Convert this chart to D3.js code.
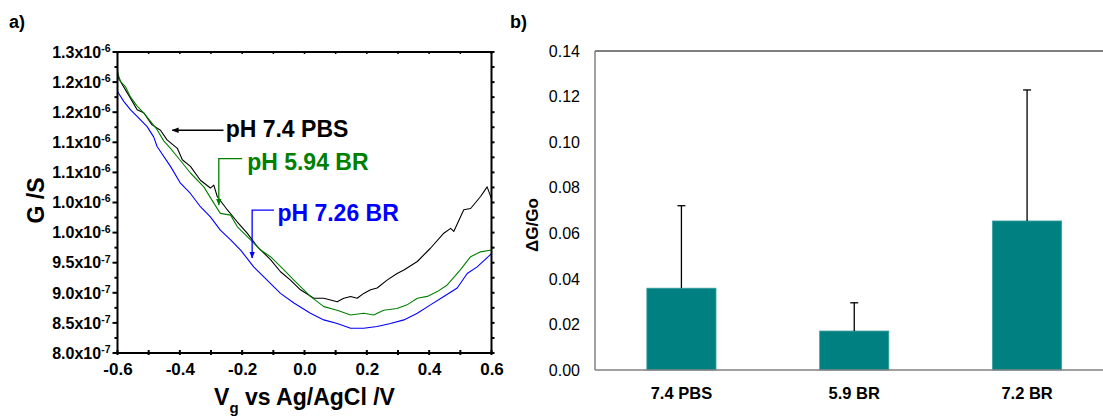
<!DOCTYPE html>
<html>
<head>
<meta charset="utf-8">
<script src="https://cdn.jsdelivr.net/npm/d3@7"></script>
<style>
  html, body { margin: 0; padding: 0; background: #fff; }
  svg { display: block; font-family: Arial, "Liberation Sans", sans-serif; }
</style>
</head>
<body>
<svg id="fig" width="1103" height="417"></svg>
<script>
// ---- Panel a: conductance vs gate voltage (G in units of 1e-7 S) ----
const pbsV = [-0.6, -0.596, -0.58, -0.558, -0.537, -0.516, -0.489, -0.462, -0.441, -0.408, -0.392, -0.366, -0.334, -0.302, -0.291, -0.28, -0.248, -0.216, -0.184, -0.152, -0.109, -0.077, -0.045, -0.013, 0.03, 0.062, 0.105, 0.126, 0.148, 0.169, 0.19, 0.212, 0.233, 0.265, 0.297, 0.319, 0.362, 0.404, 0.447, 0.469, 0.479, 0.511, 0.533, 0.565, 0.586, 0.6];
const pbsG = [12.60, 12.56, 12.42, 12.23, 12.04, 11.99, 11.79, 11.70, 11.54, 11.40, 11.21, 11.10, 10.87, 10.74, 10.79, 10.60, 10.38, 10.18, 9.99, 9.77, 9.55, 9.35, 9.21, 9.05, 8.91, 8.91, 8.85, 8.91, 8.94, 8.91, 8.99, 9.05, 9.08, 9.21, 9.32, 9.38, 9.52, 9.74, 9.99, 10.07, 10.02, 10.38, 10.40, 10.60, 10.76, 10.56];

const br594V = [-0.6, -0.596, -0.59, -0.574, -0.558, -0.537, -0.516, -0.494, -0.473, -0.451, -0.43, -0.408, -0.366, -0.323, -0.291, -0.27, -0.237, -0.216, -0.173, -0.141, -0.109, -0.066, -0.034, 0.019, 0.062, 0.105, 0.148, 0.19, 0.222, 0.254, 0.297, 0.329, 0.362, 0.394, 0.426, 0.458, 0.5, 0.533, 0.565, 0.6];
const br594G = [12.68, 12.60, 12.51, 12.42, 12.25, 12.10, 11.99, 11.85, 11.71, 11.52, 11.40, 11.26, 10.99, 10.76, 10.49, 10.32, 10.29, 10.10, 9.88, 9.71, 9.60, 9.38, 9.21, 8.94, 8.77, 8.71, 8.63, 8.66, 8.63, 8.71, 8.74, 8.80, 8.91, 8.94, 9.02, 9.13, 9.38, 9.60, 9.68, 9.71];

const br726V = [-0.6, -0.596, -0.58, -0.558, -0.537, -0.505, -0.484, -0.473, -0.43, -0.398, -0.366, -0.334, -0.302, -0.27, -0.237, -0.205, -0.163, -0.12, -0.077, -0.034, 0.019, 0.062, 0.105, 0.148, 0.19, 0.233, 0.276, 0.319, 0.362, 0.404, 0.447, 0.49, 0.522, 0.554, 0.6];
const br726G = [12.35, 12.31, 12.18, 12.04, 11.93, 11.76, 11.59, 11.43, 11.10, 10.82, 10.65, 10.43, 10.26, 10.04, 9.88, 9.71, 9.43, 9.21, 8.99, 8.83, 8.66, 8.55, 8.49, 8.41, 8.41, 8.44, 8.49, 8.55, 8.66, 8.80, 8.94, 9.08, 9.32, 9.43, 9.65];

const voltTicks = [-0.6, -0.4, -0.2, 0.0, 0.2, 0.4, 0.6];
const condTicks = [13, 12.5, 12, 11.5, 11, 10.5, 10, 9.5, 9, 8.5, 8];
const condTickMantissa = ["1.3", "1.2", "1.2", "1.1", "1.1", "1.0", "1.0", "9.5", "9.0", "8.5", "8.0"];
const condTickExponent = ["-6", "-6", "-6", "-6", "-6", "-6", "-6", "-7", "-7", "-7", "-7"];

// ---- Panel b: relative conductance change ----
const solutions = ["7.4 PBS", "5.9 BR", "7.2 BR"];
const deltaG = [0.0359, 0.0171, 0.0654];
const deltaGErr = [0.0362, 0.0124, 0.0575];
const deltaTicks = [0, 0.02, 0.04, 0.06, 0.08, 0.10, 0.12, 0.14];

const svg = d3.select("#fig");

// ================= Panel a =================
const ax = { left: 117.5, right: 491.5, top: 52, bottom: 353 };
const x = d3.scaleLinear().domain([-0.6, 0.6]).range([ax.left, ax.right]);
const y = d3.scaleLinear().domain([8, 13]).range([ax.bottom, ax.top]);

const pa = svg.append("g");

// clip curves to plot frame
svg.append("defs").append("clipPath").attr("id", "clipA")
  .append("rect").attr("x", ax.left).attr("y", ax.top)
  .attr("width", ax.right - ax.left).attr("height", ax.bottom - ax.top);

const line = d3.line().x(d => x(d[0])).y(d => y(d[1]));
const series = [
  { v: pbsV, g: pbsG, color: "#000000" },
  { v: br594V, g: br594G, color: "#008000" },
  { v: br726V, g: br726G, color: "#0000ff" }
];
const curves = pa.append("g").attr("clip-path", "url(#clipA)");
series.forEach(s => {
  curves.append("path")
    .datum(s.v.map((v, i) => [v, s.g[i]]))
    .attr("d", line)
    .attr("fill", "none")
    .attr("stroke", s.color)
    .attr("stroke-width", 1.1)
    .attr("stroke-linejoin", "round");
});

// frame
pa.append("rect")
  .attr("x", ax.left).attr("y", ax.top)
  .attr("width", ax.right - ax.left).attr("height", ax.bottom - ax.top)
  .attr("fill", "none").attr("stroke", "#000").attr("stroke-width", 2);

// bottom axis
const xAxis = d3.axisBottom(x).tickValues(voltTicks).tickSize(0).tickPadding(10)
  .tickFormat(d3.format(".1f"));
const gx = pa.append("g").attr("transform", `translate(0,${ax.bottom})`).call(xAxis);
gx.select(".domain").remove();
gx.selectAll("text").attr("font-size", 17).attr("font-weight", "bold")
  .attr("font-family", "Arial, 'Liberation Sans', sans-serif").attr("fill", "#000")
  .text(d => d3.format(".1f")(d).replace("−", "-"));

const xMinor = d3.range(-0.6, 0.61, 0.1).map(v => +v.toFixed(2));
pa.append("g").selectAll("line").data(xMinor).join("line")
  .attr("x1", d => x(d)).attr("x2", d => x(d))
  .attr("y1", ax.bottom + 2).attr("y2", ax.bottom - 3)
  .attr("stroke", "#000").attr("stroke-width", 2);
pa.append("g").selectAll("line").data(xMinor).join("line")
  .attr("x1", d => x(d)).attr("x2", d => x(d))
  .attr("y1", ax.top).attr("y2", ax.top + 2)
  .attr("stroke", "#000").attr("stroke-width", 1.5);

// left axis ticks and labels
const yMinor = d3.range(8, 13.01, 0.25).map(v => +v.toFixed(2));
pa.append("g").selectAll("line").data(yMinor).join("line")
  .attr("x1", d => ax.left - (Math.abs(d * 2 - Math.round(d * 2)) < 1e-6 ? 5 : 3))
  .attr("x2", ax.left)
  .attr("y1", d => y(d)).attr("y2", d => y(d))
  .attr("stroke", "#000").attr("stroke-width", 2);
pa.append("g").selectAll("line").data(yMinor).join("line")
  .attr("x1", ax.right).attr("x2", ax.right + 3)
  .attr("y1", d => y(d)).attr("y2", d => y(d))
  .attr("stroke", "#000").attr("stroke-width", 2);

const yl = pa.append("g").selectAll("text").data(condTicks).join("text")
  .attr("x", ax.left - 7).attr("y", d => y(d)).attr("dy", "0.36em")
  .attr("text-anchor", "end").attr("font-size", 16).attr("font-weight", "bold");
yl.append("tspan").text((d, i) => condTickMantissa[i] + "x10");
yl.append("tspan").attr("dy", "-0.55em").attr("font-size", 10.5)
  .text((d, i) => condTickExponent[i]);

// axis titles
pa.append("text")
  .attr("transform", `translate(44,${(ax.top + ax.bottom) / 2 - 2}) rotate(-90)`)
  .attr("text-anchor", "middle").attr("font-size", 23).attr("font-weight", "bold")
  .text("G /S");
const xt = pa.append("text").attr("x", (ax.left + ax.right) / 2).attr("y", 405)
  .attr("text-anchor", "middle").attr("font-size", 23).attr("font-weight", "bold");
xt.append("tspan").text("V");
xt.append("tspan").attr("font-size", 15).attr("dy", 8).text("g");
xt.append("tspan").attr("dy", -8).text(" vs Ag/AgCl /V");

pa.append("text").attr("x", 9).attr("y", 28).attr("font-size", 18)
  .attr("font-weight", "bold").text("a)");

// annotations with leader arrows
const defs = svg.select("defs");
[["arrBlack", "#000"], ["arrGreen", "#008000"], ["arrBlue", "#0000ff"]].forEach(([id, c]) => {
  defs.append("marker").attr("id", id).attr("viewBox", "0 0 10 10")
    .attr("refX", 9).attr("refY", 5).attr("markerWidth", 7).attr("markerHeight", 7)
    .attr("markerUnits", "userSpaceOnUse").attr("orient", "auto")
    .append("path").attr("d", "M0,1 L10,5 L0,9 Z").attr("fill", c);
});
const notes = [
  { text: "pH 7.4 PBS", color: "#000", marker: "arrBlack",
    path: [[-0.26, 11.70], [-0.424, 11.70]], tx: -0.253, ty: 11.58 },
  { text: "pH 5.94 BR", color: "#008000", marker: "arrGreen",
    path: [[-0.20, 11.23], [-0.275, 11.23], [-0.275, 10.46]], tx: -0.184, ty: 11.04 },
  { text: "pH 7.26 BR", color: "#0000ff", marker: "arrBlue",
    path: [[-0.098, 10.375], [-0.168, 10.375], [-0.168, 9.58]], tx: -0.087, ty: 10.19 }
];
notes.forEach(n => {
  pa.append("path").attr("d", line(n.path)).attr("fill", "none")
    .attr("stroke", n.color).attr("stroke-width", 1.3)
    .attr("marker-end", `url(#${n.marker})`);
  pa.append("text").attr("x", x(n.tx)).attr("y", y(n.ty))
    .attr("font-size", 23).attr("font-weight", "bold").attr("fill", n.color)
    .text(n.text);
});

// ================= Panel b =================
const bx = { left: 595, right: 1113.5, top: 51, bottom: 370 };
const xb = d3.scaleBand().domain(solutions).range([bx.left, bx.right])
  .paddingInner(0.6).paddingOuter(0.3);
const yb = d3.scaleLinear().domain([0, 0.14]).range([bx.bottom, bx.top]);

const pb = svg.append("g");

pb.append("g").selectAll("rect").data(solutions).join("rect")
  .attr("x", d => xb(d)).attr("width", xb.bandwidth())
  .attr("y", (d, i) => yb(deltaG[i]))
  .attr("height", (d, i) => yb(0) - yb(deltaG[i]))
  .attr("fill", "#008080").attr("stroke", "#3a9e9e").attr("stroke-width", 0.8);

// error bars (upper half only)
const eb = pb.append("g").attr("stroke", "#000").attr("stroke-width", 1.3);
solutions.forEach((s, i) => {
  const cx = xb(s) + xb.bandwidth() / 2;
  eb.append("line").attr("x1", cx).attr("x2", cx)
    .attr("y1", yb(deltaG[i])).attr("y2", yb(deltaG[i] + deltaGErr[i]));
  eb.append("line").attr("x1", cx - 4).attr("x2", cx + 4)
    .attr("y1", yb(deltaG[i] + deltaGErr[i])).attr("y2", yb(deltaG[i] + deltaGErr[i]));
});

// frame lines
pb.append("line").attr("x1", bx.left).attr("x2", 1103)
  .attr("y1", bx.top).attr("y2", bx.top).attr("stroke", "#000").attr("stroke-width", 1.2);
pb.append("line").attr("x1", bx.left).attr("x2", bx.left)
  .attr("y1", bx.top).attr("y2", bx.bottom).attr("stroke", "#808080").attr("stroke-width", 1.5);
pb.append("line").attr("x1", bx.left).attr("x2", 1103)
  .attr("y1", bx.bottom).attr("y2", bx.bottom).attr("stroke", "#808080").attr("stroke-width", 1.5);

// tick labels
pb.append("g").selectAll("text").data(deltaTicks).join("text")
  .attr("x", 580).attr("y", d => yb(d)).attr("dy", "0.36em")
  .attr("text-anchor", "end").attr("font-size", 16).attr("fill", "#000")
  .text(d => d3.format(".2f")(d));
pb.append("g").selectAll("text").data(solutions).join("text")
  .attr("x", d => xb(d) + xb.bandwidth() / 2).attr("y", 399)
  .attr("text-anchor", "middle").attr("font-size", 16.5).attr("font-weight", "bold")
  .text(d => d);

pb.append("text")
  .attr("transform", `translate(538,225) rotate(-90)`)
  .attr("text-anchor", "middle").attr("font-size", 17).attr("font-weight", "bold")
  .text("ΔG/Go");

pb.append("text").attr("x", 510).attr("y", 28).attr("font-size", 18)
  .attr("font-weight", "bold").text("b)");
</script>
</body>
</html>
